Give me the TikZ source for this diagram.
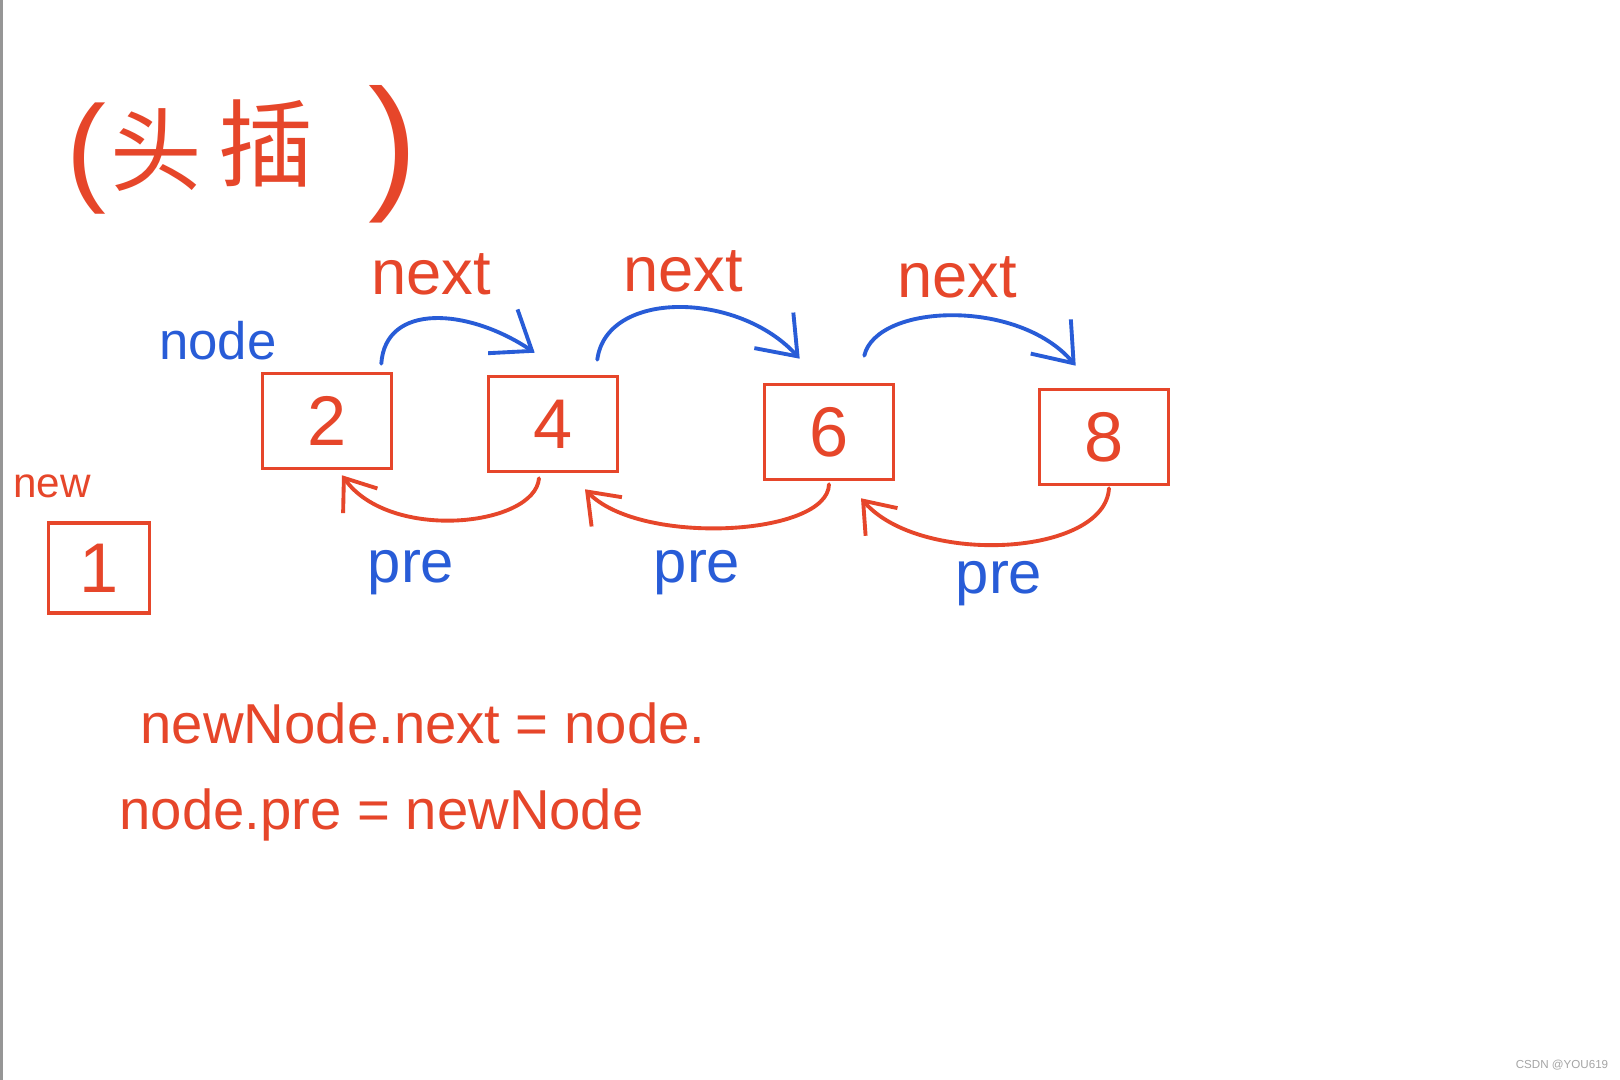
\documentclass[tikz,border=0pt]{standalone}
\usepackage{fontspec}
\setmainfont{Liberation Sans}
\newfontfamily\cjkfont{Noto Sans CJK SC}
\usetikzlibrary{arrows.meta,calc}
\definecolor{penred}{RGB}{230,70,42}
\definecolor{penblue}{RGB}{40,92,215}
\definecolor{wmgray}{RGB}{165,165,165}
\definecolor{edgegray}{RGB}{150,150,150}
\begin{document}
\begin{tikzpicture}[x=0.01cm,y=-0.01cm,
  listbox/.style={draw=penred,line width=1pt,text=penred,
    font=\fontsize{20}{24}\selectfont,minimum width=1.29cm,minimum height=0.95cm,inner sep=0pt},
  newbox/.style={listbox,minimum width=1.01cm,minimum height=0.9cm},
  nextlink/.style={draw=penblue,line width=1.1pt,line cap=round,
    -{Straight Barb[length=10pt,width=15pt]}},
  prelink/.style={draw=penred,line width=1.1pt,line cap=round,
    -{Straight Barb[length=8pt,width=12pt]}},
  redtext/.style={text=penred,inner sep=0pt},
  bluetext/.style={text=penblue,inner sep=0pt}]
\useasboundingbox (0,0) rectangle (1620,1080);
\fill[white] (0,0) rectangle (1620,1080);
\fill[edgegray] (0,0) rectangle (3,1080);

% title
\node[redtext,font=\fontsize{34}{40}\selectfont] (lp) at (86,159) {(};
\node[redtext,font=\cjkfont\fontsize{26}{32}\selectfont] (tou) at (156,150) {头};
\node[redtext,font=\cjkfont\fontsize{27}{32}\selectfont] (cha) at (266,143) {插};
\node[redtext,font=\fontsize{42}{48}\selectfont] (rp) at (393,154) {)};

% boxes
\node[listbox] (b2) at (327,421) {2};
\node[listbox] (b4) at (553,424) {4};
\node[listbox] (b6) at (829,432) {6};
\node[listbox] (b8) at (1104,437) {8};
\node[newbox] (b1) at (99,568) {1};

% labels
\node[bluetext,font=\fontsize{15}{18}\selectfont] (lnode) at (218,341) {node};
\node[redtext,font=\fontsize{12}{14}\selectfont] (lnew) at (52,486) {new};
\node[redtext,font=\fontsize{18}{22}\selectfont] (n1) at (431,274) {next};
\node[redtext,font=\fontsize{18}{22}\selectfont] (n2) at (683,271) {next};
\node[redtext,font=\fontsize{18}{22}\selectfont] (n3) at (957,277) {next};
\node[bluetext,font=\fontsize{17}{20}\selectfont] (p1) at (411,573) {pre};
\node[bluetext,font=\fontsize{17}{20}\selectfont] (p2) at (697,573) {pre};
\node[bluetext,font=\fontsize{17}{20}\selectfont] (p3) at (999,584) {pre};

% next links
\draw[nextlink] ($(b2.north east)+(-12,-8)$) .. controls +(4,-61) and +(-67,-45) .. ($(b4.north west)+(48,-22)$);
\draw[nextlink] ($(b4.north east)+(-22,-15)$) .. controls +(9,-70) and +(-62,-68) .. ($(b6.north west)+(37,-24)$);
\draw[nextlink] ($(b6.north east)+(-31,-27)$) .. controls +(12,-52) and +(-58,-68) .. ($(b8.north west)+(38,-22)$);

% pre links
\draw[prelink] ($(b4.south)+(-14,5)$) .. controls +(-4,48) and +(48,67) .. ($(b2.south)+(15,5)$);
\draw[prelink] ($(b6.south)+(0,3)$) .. controls +(-1,52) and +(55,57) .. ($(b4.south)+(32,16)$);
\draw[prelink] ($(b8.south)+(5,2)$) .. controls +(-4,68) and +(59,68) .. ($(b6.south)+(32,17)$);

% code lines
\node[redtext,anchor=base west,font=\fontsize{16}{19}\selectfont] (code1) at (140,744) {newNode.next = node.};
\node[redtext,anchor=base west,font=\fontsize{16}{19}\selectfont] (code2) at (119,830) {node.pre = newNode};

% watermark
\node[text=wmgray,inner sep=0pt,font=\fontsize{3.3}{4}\selectfont] (wm) at (1562,1065) {CSDN @YOU619};
\end{tikzpicture}
\end{document}
